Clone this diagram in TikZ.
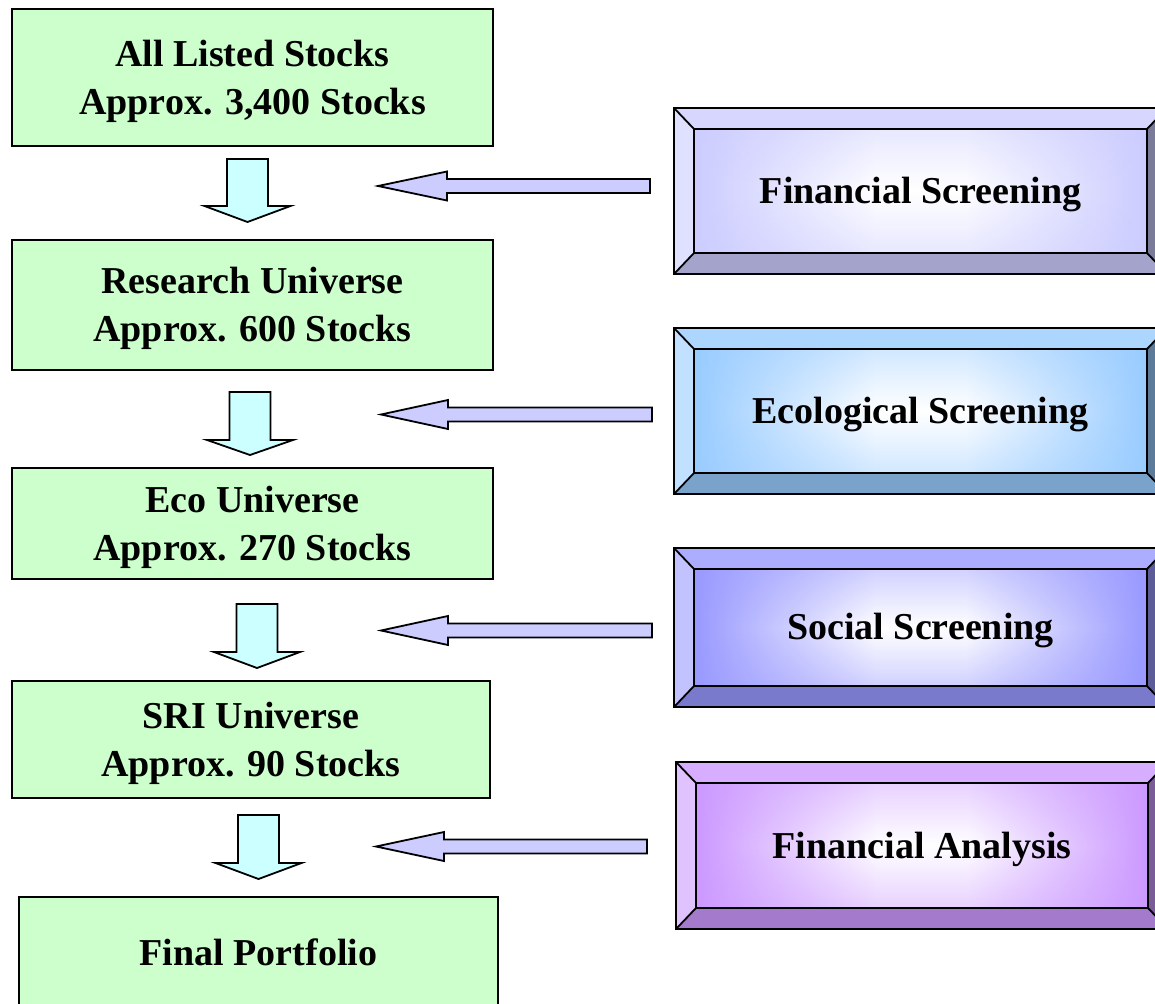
\documentclass[tikz,border=0pt]{standalone}
\usepackage{fontspec}
\setmainfont{Liberation Serif}
\usetikzlibrary{fadings}

% colours
\definecolor{boxgreen}{HTML}{CCFFCC}
\definecolor{downcyan}{HTML}{CCFFFF}
\definecolor{leftlav}{HTML}{CCCCFF}
\definecolor{finbase}{HTML}{CCCCFF}
\definecolor{ecobase}{HTML}{99CCFF}
\definecolor{socbase}{HTML}{9999FF}
\definecolor{anabase}{HTML}{CC99FF}
\colorlet{bvbase}{finbase}
\colorlet{bvsoft}{white}

% panel face: edge colour -> white core -> edge colour (colours read at use time)
\pgfdeclarehorizontalshading[bvbase,bvsoft]{bvshade}{100bp}{%
  color(0bp)=(bvbase); color(25bp)=(bvbase); color(35bp)=(bvsoft);
  color(45bp)=(white); color(55bp)=(white); color(65bp)=(bvsoft);
  color(75bp)=(bvbase); color(100bp)=(bvbase)}
\tikzfading[name=vmid, top color=transparent!0, bottom color=transparent!0,
  middle color=transparent!100]

\newcommand\diagfont{\fontsize{38}{48}\selectfont\bfseries}

\tikzset{
  outline/.style={draw=black, line width=1.8pt, line join=miter},
  greenbox/.style={outline, fill=boxgreen, inner sep=0pt},
  boxtext/.style={inner sep=0pt, align=center, font=\diagfont},
  downblock/.style={outline, fill=downcyan},
  leftblock/.style={outline, fill=leftlav},
}

% bevelled panel: name, base colour, outer x1, y1, x2, y2, text
\newcommand\bevelpanel[7]{%
  \colorlet{bvbase}{#2}\colorlet{bvsoft}{#2!50!white}%
  \fill[bvbase!80!white] (#3,#4) -- (#5,#4) -- ({#5-20},{#4+21}) -- ({#3+20},{#4+21}) -- cycle;
  \fill[bvbase!60!white] (#3,#4) -- ({#3+20},{#4+21}) -- ({#3+20},{#6-21}) -- (#3,#6) -- cycle;
  \fill[bvbase!80!black] (#3,#6) -- ({#3+20},{#6-21}) -- ({#5-20},{#6-21}) -- (#5,#6) -- cycle;
  \fill[bvbase!60!black] (#5,#4) -- (#5,#6) -- ({#5-20},{#6-21}) -- ({#5-20},{#4+21}) -- cycle;
  \shade[shading=bvshade] ({#3+20},{#4+21}) rectangle ({#5-20},{#6-21});
  \fill[bvbase, path fading=vmid, fill opacity=.45] ({#3+20},{#4+21}) rectangle ({#5-20},{#6-21});
  \draw[outline] (#3,#4) rectangle (#5,#6);
  \draw[outline] ({#3+20},{#4+21}) rectangle ({#5-20},{#6-21});
  \draw[outline] (#3,#4) -- ({#3+20},{#4+21}) (#5,#4) -- ({#5-20},{#4+21})
                 (#3,#6) -- ({#3+20},{#6-21}) (#5,#6) -- ({#5-20},{#6-21});
  \node[boxtext] (#1) at ({(#3+#5)/2},{(#4+#6)/2+3.5}) {#7};
}

% downward block arrow: tip name, centre x, top y, head base y, tip y
\newcommand\downarrowblock[5]{%
  \draw[downblock] ({#2-20.5},#3) -- ({#2+20.5},#3) -- ({#2+20.5},#4) -- ({#2+43},#4)
    -- (#2,#5) -- ({#2-43},#4) -- ({#2-20.5},#4) -- cycle;
  \coordinate (#1) at (#2,#5);
}

% leftward block arrow: tip name, tip x, centre y, head base x, tail x
\newcommand\leftarrowblock[5]{%
  \draw[leftblock] (#2,#3) -- (#4,{#3-14.5}) -- (#4,{#3-7}) -- (#5,{#3-7})
    -- (#5,{#3+7}) -- (#4,{#3+7}) -- (#4,{#3+14.5}) -- cycle;
  \coordinate (#1) at (#2,#3);
}

\begin{document}
\begin{tikzpicture}[x=1pt, y=-1pt]
  \useasboundingbox (0,0) rectangle (1155,1003);
  \clip (0,0) rectangle (1155,1003);

  % stock universe boxes
  \node[greenbox, minimum width=481pt, minimum height=137pt] (all) at (252.5,77.5) {};
  \node[greenbox, minimum width=481pt, minimum height=130pt] (research) at (252.5,305) {};
  \node[greenbox, minimum width=481pt, minimum height=111pt] (eco) at (252.5,523.5) {};
  \node[greenbox, minimum width=478pt, minimum height=117pt] (sri) at (251,739.5) {};
  \node[greenbox, minimum width=479pt, minimum height=109pt] (final) at (258.5,951.5) {};

  \node[boxtext] (all-t) at ([yshift=-3.5pt]all.center) {All Listed Stocks\\Approx. 3,400 Stocks};
  \node[boxtext] (research-t) at ([yshift=-3.5pt]research.center) {Research Universe\\Approx. 600 Stocks};
  \node[boxtext] (eco-t) at ([yshift=-3.5pt]eco.center) {Eco Universe\\Approx. 270 Stocks};
  \node[boxtext] (sri-t) at ([yshift=-3.5pt]sri.center) {SRI Universe\\Approx. 90 Stocks};
  \node[boxtext] (final-t) at ([yshift=-0.5pt]final.center) {Final Portfolio};

  % narrowing steps
  \downarrowblock{d1}{247.5}{159}{206}{222}
  \downarrowblock{d2}{250}{392}{440}{455}
  \downarrowblock{d3}{257}{604}{652}{668}
  \downarrowblock{d4}{258.5}{815}{863}{879}

  % screening panels
  \bevelpanel{fin}{finbase}{674}{108}{1167}{274}{Financial Screening}
  \bevelpanel{ecol}{ecobase}{674}{328}{1167}{494}{Ecological Screening}
  \bevelpanel{soc}{socbase}{674}{548}{1167}{707}{Social Screening}
  \bevelpanel{ana}{anabase}{676}{762}{1168}{929}{Financial Analysis}

  % inputs from the panels
  \leftarrowblock{l1}{378}{186}{447}{650}
  \leftarrowblock{l2}{381}{414.5}{448}{652}
  \leftarrowblock{l3}{381}{630.5}{448}{652}
  \leftarrowblock{l4}{376}{846.5}{444}{647}
\end{tikzpicture}
\end{document}
